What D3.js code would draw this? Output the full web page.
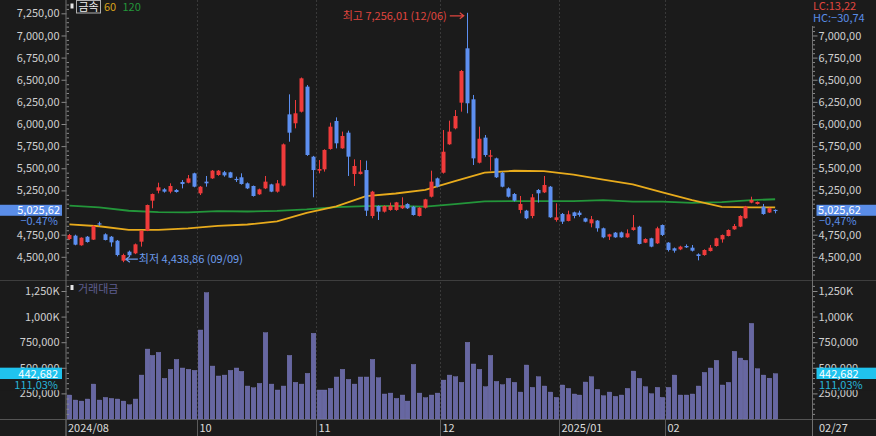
<!DOCTYPE html>
<html>
<head>
<meta charset="utf-8">
<script src="https://cdnjs.cloudflare.com/ajax/libs/d3/7.8.5/d3.min.js"></script>
<style>
  body { margin: 0; background: #1b1b1b; }
  svg { display: block; font-family: "Noto Sans CJK KR", "Noto Sans", sans-serif; }
</style>
</head>
<body>
<div id="chart"></div>
<script>
// Trading days per month (categories)
var monthKeys = ["2024/08", "2024/09", "2024/10", "2024/11", "2024/12", "2025/01", "2025/02"];
var monthDays = [
  [27, 28, 29, 30],
  [2, 3, 4, 5, 6, 9, 10, 11, 12, 13, 19, 20, 23, 24, 25, 26, 27, 30],
  [2, 4, 7, 8, 10, 11, 14, 15, 16, 17, 18, 21, 22, 23, 24, 25, 28, 29, 30, 31],
  [1, 4, 5, 6, 7, 8, 11, 12, 13, 14, 15, 18, 19, 20, 21, 22, 25, 26, 27, 28, 29],
  [2, 3, 4, 5, 6, 9, 10, 11, 12, 13, 16, 17, 18, 19, 20, 23, 24, 26, 27, 30],
  [2, 3, 6, 7, 8, 9, 10, 13, 14, 15, 16, 17, 20, 21, 22, 23, 24, 31],
  [3, 4, 5, 6, 7, 10, 11, 12, 13, 14, 17, 18, 19, 20, 21, 24, 25, 26, 27]
];

// Candles
var opens = [4701,4739,4630,4727,4694,4878,4754,4727,4682,4456,4558,4539,4671,4795,5134,5247,5262,5236,5255,5345,
  5337,5443,5217,5349,5386,5424,5455,5454,5380,5398,5330,5300,5206,5273,5318,5236,5304,6109,6008,6139,
  6422,5631,5473,5488,5718,6034,5725,5902,5435,5435,5480,4961,5074,5010,5029,5029,5048,5097,5066,4961,
  5055,5179,5386,5450,5771,5951,6241,6855,6279,5563,5846,5631,5612,5450,5273,5209,5029,5021,4961,5255,
  5228,5292,4916,4984,4905,5002,4999,4935,4878,4909,4822,4728,4773,4776,4720,4803,4840,4660,4709,4652,
  4859,4660,4596,4584,4622,4603,4528,4520,4565,4622,4697,4735,4810,4841,4935,5112,5097,5066,5000,5030];
var highs = [4758,4750,4720,4735,4855,4897,4765,4735,4690,4535,4570,4650,4800,5090,5215,5337,5275,5330,5265,5367,
  5424,5450,5300,5413,5480,5480,5470,5460,5405,5443,5340,5305,5270,5413,5325,5367,5780,6335,6271,6525,
  6440,5640,5593,5715,6015,6075,5914,5925,5601,5593,5586,5245,5080,5080,5112,5120,5172,5105,5075,5060,
  5155,5473,5395,5932,6038,6158,6610,7256.01,6328,5970,5876,5707,5620,5460,5285,5220,5187,5030,5209,5265,
  5413,5300,5104,4995,5021,5010,5021,4942,4961,4915,4830,4760,4780,4785,4810,4972,4850,4710,4715,4840,
  4865,4665,4605,4625,4640,4633,4539,4585,4633,4715,4752,4810,4871,4970,5075,5179,5125,5097,5055,5035];
var lows = [4690,4630,4625,4660,4690,4848,4685,4615,4505,4438.86,4505,4530,4615,4790,5048,5217,5225,5217,5225,5273,
  5330,5285,5198,5292,5380,5415,5405,5390,5345,5315,5265,5180,5200,5265,5230,5225,5295,5800,5951,6130,
  5640,5172,5443,5462,5710,5725,5720,5413,5300,5430,4961,4935,4916,5000,5020,5020,5040,5040,4965,4955,
  5045,5170,5285,5440,5765,5940,6139,6121,5537,5555,5630,5473,5390,5285,5170,5125,4991,4925,4935,5112,
  5220,4940,4897,4871,4900,4935,4953,4890,4833,4784,4710,4690,4715,4715,4715,4795,4640,4655,4608,4645,
  4735,4560,4547,4575,4600,4560,4460,4512,4560,4615,4660,4730,4805,4835,4930,5105,5090,4975,4995,4991];
var closes = [4746,4637,4716,4667,4848,4867,4690,4663,4520,4520,4517,4641,4795,5085,5209,5285,5236,5300,5232,5322,
  5386,5292,5292,5330,5473,5473,5420,5394,5370,5322,5273,5187,5262,5349,5236,5330,5770,5902,6121,6516,
  5650,5480,5492,5707,5970,5782,5865,5631,5526,5462,5021,5236,5010,5074,5078,5115,5078,5048,4972,5055,
  5149,5349,5292,5687,5914,6090,6599,6234,5612,5834,5650,5646,5398,5292,5179,5134,5097,4935,5172,5217,
  5311,4946,4946,4897,4980,4961,4972,4897,4924,4822,4720,4754,4720,4720,4765,4833,4645,4701,4615,4822,
  4747,4577,4569,4615,4607,4569,4509,4577,4603,4709,4746,4803,4848,4961,5066,5142,5119,4983,5049.35,5025.62];

// Trading value (thousands)
var volumes = [234,185,175,195,341,185,211,201,195,175,139,195,429,683,621,651,397,485,582,498,
  485,475,869,1234,517,420,429,475,498,465,322,305,348,843,341,283,322,621,358,341,
  446,837,283,283,299,410,485,387,341,410,410,582,403,244,253,201,234,175,533,253,
  208,234,253,380,429,413,358,749,537,485,315,621,367,335,397,358,263,527,309,413,
  322,263,211,332,299,244,234,361,413,289,227,263,221,234,299,468,397,315,247,309,
  211,309,429,234,234,244,322,455,498,573,332,358,661,595,573,934,491,429,398.7,442.682];

// Moving averages read at every 5th bar
var maIndex = [0,5,10,15,20,25,30,35,40,45,50,55,60,65,70,75,80,85,90,95,100,105,110,115,119];
var ma60 = [4867,4845,4805,4805,4820,4850,4865,4900,4995,5070,5185,5215,5255,5355,5450,5472,5468,5428,5372,5318,5228,5140,5064,5059,5059];
var ma120 = [5077,5058,5020,5004,5002,5015,5012,5018,5036,5062,5072,5074,5066,5095,5125,5130,5130,5130,5140,5123,5123,5110,5118,5140,5150];

// Axis ticks
var priceTicks = [4500,4750,5000,5250,5500,5750,6000,6250,6500,6750,7000,7250];
var volumeTicks = [250,500,750,1000,1250];
var volumeTickLabels = ["250,000","500,000","750,000","1,000K","1,250K"];
var labelMonths = ["2024/08","2024/10","2024/11","2024/12","2025/01","2025/02"];
var labelTexts = ["2024/08","10","11","12","2025/01","02"];

// Build date list
var dates = [];
monthKeys.forEach(function(m, k) {
  monthDays[k].forEach(function(d) { dates.push({month: m, day: d}); });
});
var n = dates.length;

var svgWidth = 876;
var svgHeight = 436;
var axisLeftX = 66.5, axisRightX = 812.5;
var priceBottom = 280, volTop = 282, volBottom = 419;

var bg = "#1b1b1b";
var upColor = "#ef3b3b", downColor = "#5d8ff0";
var textColor = "#cfcfcf";

var svg = d3.select("#chart").append("svg")
  .attr("width", svgWidth)
  .attr("height", svgHeight);

svg.append("rect").attr("width", svgWidth).attr("height", svgHeight).attr("fill", bg);

var x = d3.scaleBand().domain(d3.range(n)).range([66.5, 66.5 + n * 5.93]);
var cx = function(i) { return x(i) + x.step() / 2; };
var yPrice = d3.scaleLinear().domain([4238, 7400.7]).range([priceBottom, 0]);
var yVol = d3.scaleLinear().domain([0, 1338]).range([volBottom, volTop]);

var fmtPrice = function(v) { return d3.format(",.2f")(v).replace(/\.(\d\d)$/, ",$1"); };
var fmtComma = function(v) { return d3.format(".2f")(v).replace(".", ","); };

var last = closes[n - 1], prev = closes[n - 2];
var py = yPrice(last);

// Month start indices
var monthStart = labelMonths.map(function(m) {
  return dates.findIndex(function(d) { return d.month === m; });
});

// Dashed month gridlines
var grid = svg.append("g");
monthStart.slice(1).forEach(function(i) {
  [[0, priceBottom], [volTop, volBottom]].forEach(function(r) {
    grid.append("line")
      .attr("x1", Math.round(x(i)) + 0.5).attr("x2", Math.round(x(i)) + 0.5)
      .attr("y1", r[0]).attr("y2", r[1])
      .attr("stroke", "#393939").attr("stroke-dasharray", "2,2");
  });
});

// Panel separators
svg.append("line").attr("x1", 0).attr("x2", svgWidth).attr("y1", 280.5).attr("y2", 280.5).attr("stroke", "#3e3e3e");
svg.append("line").attr("x1", 0).attr("x2", svgWidth).attr("y1", volBottom + 0.5).attr("y2", volBottom + 0.5).attr("stroke", "#555");

// Moving averages
var maLine = function(vals) {
  return d3.line()
    .x(function(d, k) { return cx(maIndex[k]); })
    .y(function(d) { return yPrice(d); })(vals);
};
svg.append("path").attr("d", maLine(ma120)).attr("fill", "none").attr("stroke", "#23963a").attr("stroke-width", 1.8);
svg.append("path").attr("d", maLine(ma60)).attr("fill", "none").attr("stroke", "#e8ab1c").attr("stroke-width", 1.8);

// Candles
var candles = svg.append("g").selectAll("g")
  .data(d3.range(n))
  .enter()
  .append("g");

candles.append("line")
  .attr("x1", function(i) { return Math.round(cx(i)) + 0.5; })
  .attr("x2", function(i) { return Math.round(cx(i)) + 0.5; })
  .attr("y1", function(i) { return yPrice(highs[i]); })
  .attr("y2", function(i) { return yPrice(lows[i]); })
  .attr("stroke", function(i) { return closes[i] >= opens[i] ? upColor : downColor; });

candles.append("rect")
  .attr("x", function(i) { return Math.round(cx(i)) - 1.5; })
  .attr("width", 4)
  .attr("y", function(i) { return yPrice(Math.max(opens[i], closes[i])); })
  .attr("height", function(i) { return Math.max(1.2, Math.abs(yPrice(opens[i]) - yPrice(closes[i]))); })
  .attr("fill", function(i) { return closes[i] >= opens[i] ? upColor : downColor; });

// Volume bars
svg.append("g").selectAll("rect")
  .data(volumes)
  .enter()
  .append("rect")
  .attr("x", function(d, i) { return Math.round(cx(i)) - 1.8; })
  .attr("width", 4.6)
  .attr("y", function(d) { return yVol(d); })
  .attr("height", function(d) { return volBottom - yVol(d); })
  .attr("fill", "#6767a2")
  .attr("stroke", "#7c7cba")
  .attr("stroke-width", 0.4);

// High / low annotations
var iHi = d3.maxIndex(highs), iLo = d3.minIndex(lows);
var hiY = yPrice(highs[iHi]);
svg.append("text")
  .attr("x", cx(iHi) - 20).attr("y", hiY + 7)
  .attr("text-anchor", "end").attr("font-size", 11).attr("fill", "#e0463f")
  .text("최고 " + fmtPrice(highs[iHi]) + " (" + dates[iHi].month.slice(5) + "/" + d3.format("02")(dates[iHi].day) + ")");
var ax1 = cx(iHi) - 17, ax2 = cx(iHi) - 3, ay = hiY + 3;
svg.append("path")
  .attr("d", "M" + ax1 + "," + ay + "H" + ax2 + "M" + (ax2 - 4) + "," + (ay - 3) + "L" + ax2 + "," + ay + "L" + (ax2 - 4) + "," + (ay + 3))
  .attr("fill", "none").attr("stroke", "#e0463f").attr("stroke-width", 1.2);

var loY = yPrice(lows[iLo]) - 3;
var bx1 = cx(iLo) + 3, bx2 = cx(iLo) + 15;
svg.append("path")
  .attr("d", "M" + bx2 + "," + loY + "H" + bx1 + "M" + (bx1 + 4) + "," + (loY - 3) + "L" + bx1 + "," + loY + "L" + (bx1 + 4) + "," + (loY + 3))
  .attr("fill", "none").attr("stroke", "#6d9cec").attr("stroke-width", 1.2);
svg.append("text")
  .attr("x", bx2 + 1).attr("y", loY + 4)
  .attr("font-size", 11).attr("fill", "#6d9cec")
  .text("최저 " + fmtPrice(lows[iLo]) + " (" + dates[iLo].month.slice(5) + "/" + d3.format("02")(dates[iLo].day) + ")");

// Axes
function styleAxis(g) {
  g.select(".domain").remove();
  g.selectAll(".tick line").attr("stroke", "#8a8a8a");
  g.selectAll(".tick text").attr("fill", textColor).attr("font-size", 11).attr("font-family", "Noto Sans CJK KR, Noto Sans, sans-serif");
}
// labels under the current-price boxes and the LC/HC block are not shown
var leftPriceTicks = priceTicks.filter(function(v) { return Math.abs(yPrice(v) - py) > 14; });
var rightPriceTicks = leftPriceTicks.filter(function(v) { return yPrice(v) > 24; });
var minorPrice = d3.range(4250, 7400, 50).filter(function(v) { return v % 250 !== 0; });
var minorVol = d3.range(50, 1340, 50).filter(function(v) { return v % 250 !== 0; });

svg.append("g").attr("transform", "translate(" + axisLeftX + ",0)")
  .call(d3.axisLeft(yPrice).tickValues(leftPriceTicks).tickFormat(fmtPrice).tickSize(5).tickPadding(2)).call(styleAxis);
svg.append("g").attr("transform", "translate(" + axisRightX + ",0)")
  .call(d3.axisRight(yPrice).tickValues(rightPriceTicks).tickFormat(fmtPrice).tickSize(5).tickPadding(1)).call(styleAxis);
svg.append("g").attr("transform", "translate(" + axisLeftX + ",0)")
  .call(d3.axisRight(yPrice).tickValues(minorPrice).tickFormat("").tickSize(2.5)).call(styleAxis);
svg.append("g").attr("transform", "translate(" + axisRightX + ",0)")
  .call(d3.axisRight(yPrice).tickValues(minorPrice.filter(function(v) { return yPrice(v) > 24; })).tickFormat("").tickSize(2.5)).call(styleAxis);

svg.append("g").attr("transform", "translate(" + axisLeftX + ",0)")
  .call(d3.axisLeft(yVol).tickValues(volumeTicks).tickFormat(function(d, k) { return volumeTickLabels[k]; }).tickSize(5).tickPadding(2)).call(styleAxis);
svg.append("g").attr("transform", "translate(" + axisRightX + ",0)")
  .call(d3.axisRight(yVol).tickValues(volumeTicks).tickFormat(function(d, k) { return volumeTickLabels[k]; }).tickSize(5).tickPadding(1)).call(styleAxis);
svg.append("g").attr("transform", "translate(" + axisLeftX + ",0)")
  .call(d3.axisRight(yVol).tickValues(minorVol).tickFormat("").tickSize(2.5)).call(styleAxis);
svg.append("g").attr("transform", "translate(" + axisRightX + ",0)")
  .call(d3.axisRight(yVol).tickValues(minorVol).tickFormat("").tickSize(2.5)).call(styleAxis);

// Vertical axis lines
svg.append("line").attr("x1", axisLeftX - 0.5).attr("x2", axisLeftX - 0.5).attr("y1", 0).attr("y2", svgHeight).attr("stroke", "#707070");
svg.append("line").attr("x1", axisRightX).attr("x2", axisRightX).attr("y1", 26).attr("y2", svgHeight).attr("stroke", "#707070");

// Bottom date labels
monthStart.forEach(function(i, k) {
  var xx = k === 0 ? axisLeftX - 0.5 : Math.round(x(i)) + 0.5;
  svg.append("line").attr("x1", xx).attr("x2", xx).attr("y1", volBottom).attr("y2", svgHeight).attr("stroke", "#5a5a5a");
  svg.append("text").attr("x", xx + 2).attr("y", 432).attr("font-size", 11).attr("fill", "#dcdcdc").text(labelTexts[k]);
});
var lastDate = dates[n - 1];
svg.append("text").attr("x", 819).attr("y", 432).attr("font-size", 11).attr("fill", "#dcdcdc")
  .text(lastDate.month.slice(5) + "/" + d3.format("02")(lastDate.day));

// Current price labels
var chg = (last / prev - 1) * 100;
svg.append("rect").attr("x", 0).attr("y", py - 5.5).attr("width", 62).attr("height", 11).attr("fill", "#5a8de8");
svg.append("text").attr("x", 60).attr("y", py + 4).attr("text-anchor", "end").attr("font-size", 11).attr("fill", "#fff").text(fmtPrice(last));
svg.append("text").attr("x", 58).attr("y", py + 15).attr("text-anchor", "end").attr("font-size", 11).attr("fill", "#5a8de8").text(d3.format(".2f")(chg) + "%");

svg.append("rect").attr("x", 816.5).attr("y", py - 5.5).attr("width", 60).attr("height", 11).attr("fill", "#5a8de8");
svg.append("text").attr("x", 818).attr("y", py + 4).attr("font-size", 11).attr("fill", "#fff").text(fmtPrice(last));
svg.append("text").attr("x", 819).attr("y", py + 15).attr("font-size", 11).attr("fill", "#5a8de8").text(fmtComma(chg) + "%");

// Current volume labels
var lastV = volumes[n - 1], vRatio = lastV / volumes[n - 2] * 100;
var vy = yVol(lastV);
var fmtVol = d3.format(",.0f");
svg.append("rect").attr("x", 0).attr("y", vy - 6).attr("width", 62).attr("height", 11.5).attr("fill", "#20c3ee");
svg.append("rect").attr("x", 0).attr("y", vy + 5.5).attr("width", 62).attr("height", 11).attr("fill", bg);
svg.append("text").attr("x", 58).attr("y", vy + 4).attr("text-anchor", "end").attr("font-size", 11).attr("fill", "#fff").text(fmtVol(lastV * 1000));
svg.append("text").attr("x", 58).attr("y", vy + 15).attr("text-anchor", "end").attr("font-size", 11).attr("fill", "#27b4d8").text(fmtComma(vRatio) + "%");

svg.append("rect").attr("x", 816.5).attr("y", vy - 6).attr("width", 60).attr("height", 11.5).attr("fill", "#20c3ee");
svg.append("rect").attr("x", 816.5).attr("y", vy + 5.5).attr("width", 60).attr("height", 11).attr("fill", bg);
svg.append("text").attr("x", 819).attr("y", vy + 4).attr("font-size", 11).attr("fill", "#fff").text(fmtVol(lastV * 1000));
svg.append("text").attr("x", 819).attr("y", vy + 15).attr("font-size", 11).attr("fill", "#27b4d8").text(fmtComma(vRatio) + "%");

// LC / HC labels (top right)
var lc = (last / lows[iLo] - 1) * 100, hc = (last / highs[iHi] - 1) * 100;
svg.append("text").attr("x", 813).attr("y", 10).attr("font-size", 11).attr("fill", "#e0463f").text("LC:" + fmtComma(lc));
svg.append("text").attr("x", 813).attr("y", 22).attr("font-size", 11).attr("fill", "#5a8de8").text("HC:" + fmtComma(hc));

// Legends
svg.append("rect").attr("x", 70.5).attr("y", 3.5).attr("width", 3).attr("height", 5).attr("fill", "#e6e6e6");
svg.append("rect").attr("x", 76.5).attr("y", 0.5).attr("width", 24).attr("height", 12.5).attr("fill", "none").attr("stroke", "#b0b0b0");
svg.append("text").attr("x", 78.5).attr("y", 11).attr("font-size", 11).attr("fill", "#f0f0f0").text("금속");
svg.append("text").attr("x", 104).attr("y", 11).attr("font-size", 11).attr("fill", "#d9a31c").text("60");
svg.append("text").attr("x", 122.5).attr("y", 11).attr("font-size", 11).attr("fill", "#23963a").text("120");

svg.append("rect").attr("x", 70.5).attr("y", 285).attr("width", 3).attr("height", 5).attr("fill", "#e6e6e6");
svg.append("text").attr("x", 78).attr("y", 292.5).attr("font-size", 11).attr("fill", "#5e5e90").text("거래대금");
</script>
</body>
</html>
